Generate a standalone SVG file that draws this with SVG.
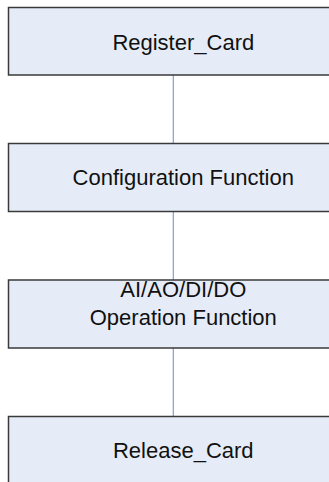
<svg xmlns="http://www.w3.org/2000/svg" width="329" height="482" viewBox="0 0 329 482">
  <style>
    .box { fill: #e6ecf7; stroke: #3a3a3a; stroke-width: 1.5; }
    .label { font-family: "Liberation Sans", Arial, sans-serif; font-size: 22px; fill: #111; text-anchor: middle; }
    .link { stroke: #7f9fd6; stroke-width: 1.2; fill: none; }
  </style>
  <rect width="329" height="482" fill="#ffffff"/>
  <g id="connectors">
    <line class="link" x1="173.3" y1="75" x2="173.3" y2="143"/>
    <line class="link" x1="173.3" y1="211.5" x2="173.3" y2="280"/>
    <line class="link" x1="173.3" y1="348" x2="173.3" y2="416"/>
  </g>
  <g id="register-card">
    <rect class="box" x="8.5" y="7.5" width="350" height="67.5"/>
    <text class="label" x="183.3" y="50">Register_Card</text>
  </g>
  <g id="configuration-function">
    <rect class="box" x="8.5" y="143.5" width="350" height="68"/>
    <text class="label" x="183.3" y="185">Configuration Function</text>
  </g>
  <g id="operation-function">
    <rect class="box" x="8.5" y="280" width="350" height="68"/>
    <text class="label" x="183.3" y="297">AI/AO/DI/DO</text>
    <text class="label" x="183.3" y="325">Operation Function</text>
  </g>
  <g id="release-card">
    <rect class="box" x="8.5" y="416.5" width="350" height="68"/>
    <text class="label" x="183.3" y="457.5">Release_Card</text>
  </g>
</svg>
